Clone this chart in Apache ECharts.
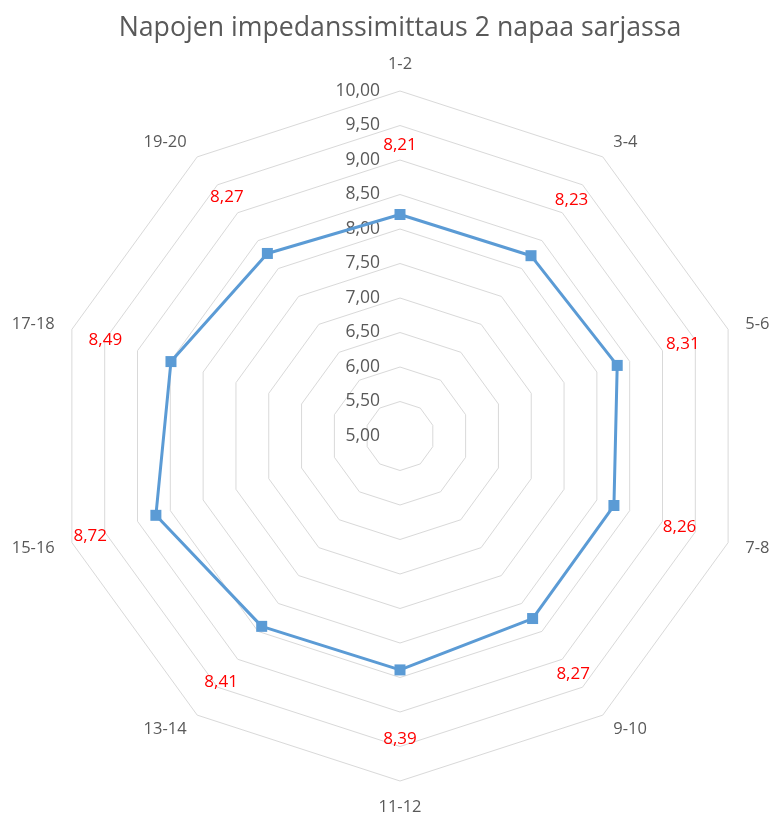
<!DOCTYPE html>
<html>
<head>
<meta charset="utf-8">
<script src="https://cdn.jsdelivr.net/npm/echarts@6/dist/echarts.min.js"></script>
<style>
  html, body { margin: 0; padding: 0; background: #ffffff; }
  #chart { width: 769px; height: 818px; }
</style>
</head>
<body>
<div id="chart"></div>
<script>
// Terminal pair impedance, two poles in series
const titleText = 'Napojen impedanssimittaus 2 napaa sarjassa';
const categories = ['1-2', '3-4', '5-6', '7-8', '9-10', '11-12', '13-14', '15-16', '17-18', '19-20'];
const values = [8.21, 8.23, 8.31, 8.26, 8.27, 8.39, 8.41, 8.72, 8.49, 8.27];
const axisMin = 5;
const axisMax = 10;
const axisSplits = 10;          // 0,50 steps
const labelLift = 1.0;          // value labels sit this far outside their point

const fmt = v => Number(v).toFixed(2).replace('.', ',');

// Radar indicators run counter-clockwise, so keep the first and walk the rest backwards
const order = categories.map((_, i) => (categories.length - i) % categories.length);

const font = 'Open Sans';
const chart = echarts.init(document.getElementById('chart'));
chart.setOption({
  animation: false,
  backgroundColor: '#ffffff',
  title: {
    text: titleText,
    left: 395,
    textAlign: 'center',
    top: 10,
    textStyle: { color: '#595959', fontFamily: font, fontSize: 26.7, fontWeight: 'normal' }
  },
  radar: {
    center: [400, 436],
    radius: 345,
    startAngle: 90,
    splitNumber: axisSplits,
    shape: 'polygon',
    nameGap: 18,
    axisName: { color: '#595959', fontFamily: font, fontSize: 16.5 },
    indicator: order.map((k, i) => ({
      name: categories[k],
      min: axisMin,
      max: axisMax,
      axisLabel: { show: i === 0 }
    })),
    axisLine: { show: false },
    axisTick: { show: false },
    splitArea: { show: false },
    splitLine: { lineStyle: { color: '#D9D9D9', width: 1 } },
    axisLabel: {
      show: true,
      color: '#595959',
      fontFamily: font,
      fontSize: 17.5,
      margin: 20,
      formatter: fmt
    }
  },
  series: [
    {
      type: 'radar',
      symbol: 'rect',
      symbolSize: 11,
      z: 3,
      lineStyle: { color: '#5B9BD5', width: 3 },
      itemStyle: { color: '#5B9BD5' },
      data: [{ value: order.map(k => values[k]) }]
    },
    {
      // carries the red value labels just outside the blue line
      type: 'radar',
      silent: true,
      symbol: 'circle',
      symbolSize: 1,
      z: 4,
      lineStyle: { width: 0, opacity: 0 },
      itemStyle: { color: 'rgba(0,0,0,0)' },
      label: {
        show: true,
        position: 'inside',
        color: '#FF0000',
        fontFamily: font,
        fontSize: 17,
        formatter: p => fmt(values[order[p.dimensionIndex]])
      },
      data: [{ value: order.map(k => values[k] + labelLift) }]
    }
  ]
});
</script>
</body>
</html>
